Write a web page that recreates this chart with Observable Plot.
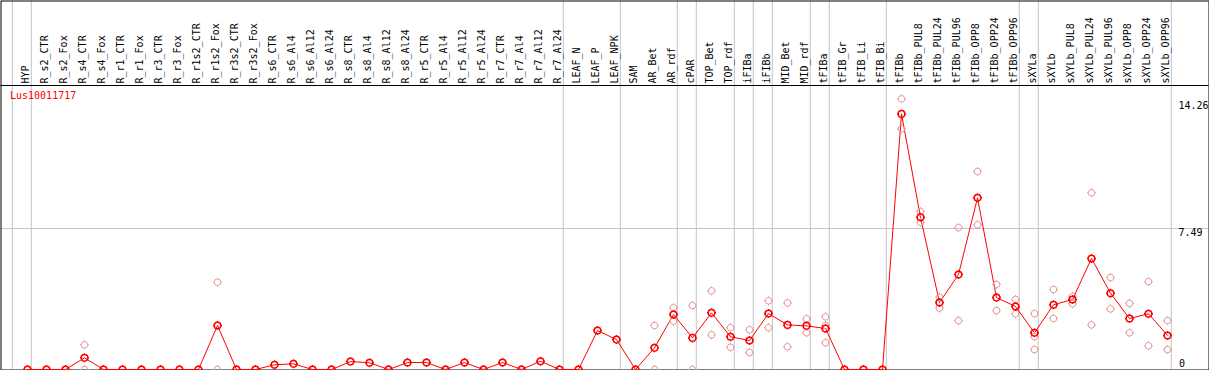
<!DOCTYPE html>
<html>
<head>
<meta charset="utf-8">
<script src="https://cdn.jsdelivr.net/npm/d3@7"></script>
<script src="https://cdn.jsdelivr.net/npm/@observablehq/plot@0.6"></script>
<style>
  html, body { margin: 0; padding: 0; background: #fff; }
  svg { display: block; }
</style>
</head>
<body>
<div id="chart"></div>
<script>
const geneId = "Lus10011717";

const samples = [
  "HYP",
  "R_s2_CTR","R_s2_Fox","R_s4_CTR","R_s4_Fox","R_r1_CTR","R_r1_Fox","R_r3_CTR","R_r3_Fox",
  "R_r1s2_CTR","R_r1s2_Fox","R_r3s2_CTR","R_r3s2_Fox",
  "R_s6_CTR","R_s6_Al4","R_s6_Al12","R_s6_Al24","R_s8_CTR","R_s8_Al4","R_s8_Al12","R_s8_Al24",
  "R_r5_CTR","R_r5_Al4","R_r5_Al12","R_r5_Al24","R_r7_CTR","R_r7_Al4","R_r7_Al12","R_r7_Al24",
  "LEAF_N","LEAF_P","LEAF_NPK",
  "SAM","AR_Bet","AR_rdf","cPAR","TOP_Bet","TOP_rdf","iFIBa","iFIBb","MID_Bet","MID_rdf",
  "tFIBa","tFIB_Gr","tFIB_Li","tFIB_Bi",
  "tFIBb","tFIBb_PUL8","tFIBb_PUL24","tFIBb_PUL96","tFIBb_OPP8","tFIBb_OPP24","tFIBb_OPP96",
  "sXYLa",
  "sXYLb","sXYLb_PUL8","sXYLb_PUL24","sXYLb_PUL96","sXYLb_OPP8","sXYLb_OPP24","sXYLb_OPP96"
];

const means = [
  0,
  0, 0, 0.62, 0, 0, 0, 0, 0,
  0, 2.34, 0, 0,
  0.25, 0.30, 0, 0, 0.42, 0.36, 0, 0.37,
  0.37, 0, 0.37, 0, 0.37, 0, 0.44, 0,
  0, 2.07, 1.59,
  0, 1.15, 2.92, 1.68, 3.01, 1.74, 1.54, 2.97, 2.37, 2.32,
  2.18, 0, 0, 0,
  13.58, 8.09, 3.56, 5.05, 9.12, 3.82, 3.35,
  1.95,
  3.44, 3.72, 5.90, 4.05, 2.71, 2.96, 1.81
];

const repSamples = [
  "R_s4_CTR","R_s4_CTR",
  "R_r1s2_Fox","R_r1s2_Fox",
  "AR_Bet","AR_Bet",
  "AR_rdf","AR_rdf",
  "cPAR","cPAR",
  "TOP_Bet","TOP_Bet",
  "TOP_rdf","TOP_rdf",
  "iFIBa","iFIBa",
  "iFIBb","iFIBb",
  "MID_Bet","MID_Bet",
  "MID_rdf","MID_rdf",
  "tFIBa","tFIBa","tFIBa",
  "tFIBb","tFIBb",
  "tFIBb_PUL8","tFIBb_PUL8",
  "tFIBb_PUL24","tFIBb_PUL24",
  "tFIBb_PUL96","tFIBb_PUL96",
  "tFIBb_OPP8","tFIBb_OPP8",
  "tFIBb_OPP24","tFIBb_OPP24",
  "tFIBb_OPP96","tFIBb_OPP96",
  "sXYLa","sXYLa","sXYLa",
  "sXYLb","sXYLb",
  "sXYLb_PUL8","sXYLb_PUL8",
  "sXYLb_PUL24","sXYLb_PUL24",
  "sXYLb_PUL96","sXYLb_PUL96",
  "sXYLb_OPP8","sXYLb_OPP8",
  "sXYLb_OPP24","sXYLb_OPP24",
  "sXYLb_OPP96","sXYLb_OPP96"
];

const repValues = [
  1.31, 0,
  4.64, 0,
  2.34, 0,
  3.28, 2.57,
  3.40, 0,
  4.18, 1.84,
  2.22, 1.18,
  2.11, 0.90,
  3.65, 2.22,
  3.54, 1.21,
  2.69, 1.95,
  2.80, 2.34, 1.42,
  14.38, 12.79,
  8.39, 7.82,
  3.84, 3.26,
  7.54, 2.60,
  10.52, 7.69,
  4.52, 3.13,
  3.72, 2.96,
  2.97, 1.75, 1.06,
  4.25, 2.71,
  3.89, 3.49,
  9.39, 2.37,
  4.89, 3.22,
  3.51, 1.95,
  4.67, 1.26,
  2.60, 1.06
];

// last sample of each group (a grey separator follows it)
const groupEnds = ["HYP","R_r7_Al24","LEAF_NPK","AR_rdf","cPAR","TOP_rdf","iFIBa","iFIBb",
  "MID_rdf","tFIBa","tFIB_Bi","tFIBb_OPP96","sXYLa","sXYLb_OPP96"];

const yTickLabels = [14.26, 7.49];
const yZeroLabel = [0];
const yGrid = [7.49];
const yMax = 15.09; // value at the header divider (top of the plot area)

const meanData = samples.map((s, i) => ({sample: s, value: means[i]}));
const repData = repSamples.map((s, i) => ({sample: s, value: repValues[i]}));

// circle with four small ticks
const tickCircle = {
  draw(ctx, size) {
    const r = Math.sqrt(size / Math.PI);
    const t = 1.2;
    ctx.moveTo(r, 0);
    ctx.arc(0, 0, r, 0, 2 * Math.PI);
    ctx.moveTo(0, -r); ctx.lineTo(0, -r - t);
    ctx.moveTo(0, r); ctx.lineTo(0, r + t);
    ctx.moveTo(-r, 0); ctx.lineTo(-r - t, 0);
    ctx.moveTo(r, 0); ctx.lineTo(r + t, 0);
  }
};

const font = "DejaVu Sans Mono";
const grey = "#c4c4c4";

const chart = Plot.plot({
  width: 1209,
  height: 370,
  marginTop: 0.5,
  marginLeft: 0.5,
  marginRight: 0.5,
  marginBottom: 0.5,
  style: {fontFamily: font, fontSize: "10px", background: "#fff"},
  x: {type: "point", domain: samples, range: [26.7, 1166.7], padding: 0, axis: null},
  y: {domain: [0, yMax], range: [369, 85], axis: null},
  marks: [
    Plot.ruleY(yGrid, {stroke: grey, strokeWidth: 1}),
    Plot.ruleX(["HYP"], {stroke: grey, dx: -15.2}),
    Plot.ruleX(groupEnds, {stroke: grey, dx: 3.8}),
    Plot.ruleY([yMax], {stroke: "black", strokeWidth: 1}),
    Plot.frame({stroke: "black", strokeWidth: 1}),
    Plot.text(samples, {
      x: d => d, text: d => d, frameAnchor: "top",
      rotate: -90, textAnchor: "start", lineAnchor: "middle",
      dy: 82.5, dx: -1.5, fill: "black", fontSize: 10
    }),
    Plot.text([geneId], {
      text: d => d, frameAnchor: "top-left", textAnchor: "start", lineAnchor: "middle",
      dx: 9, dy: 95, fill: "red", fontSize: 10
    }),
    Plot.text(yTickLabels, {
      y: d => d, text: d => String(d), frameAnchor: "right", textAnchor: "start",
      lineAnchor: "top", dx: -30.5, dy: 0.5, fill: "black", fontSize: 10
    }),
    Plot.text(yZeroLabel, {
      y: d => d, text: d => String(d), frameAnchor: "right", textAnchor: "start",
      lineAnchor: "bottom", dx: -30, dy: -3, fill: "black", fontSize: 10
    }),
    Plot.line(meanData, {x: "sample", y: "value", stroke: "#ff0000", strokeWidth: 1}),
    Plot.dot(repData, {x: "sample", y: "value", r: 3.3, symbol: tickCircle,
      stroke: "#e89a9a", strokeWidth: 1, fill: "none"}),
    Plot.dot(meanData, {x: "sample", y: "value", r: 3.3, symbol: tickCircle,
      stroke: "#ff0000", strokeWidth: 1.5, fill: "none"})
  ]
});

document.getElementById("chart").appendChild(chart);
</script>
</body>
</html>
